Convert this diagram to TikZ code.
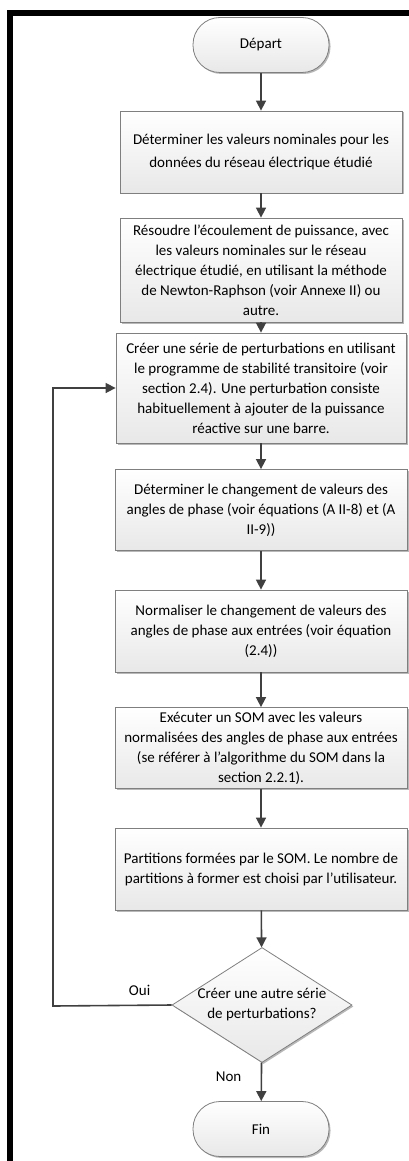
\documentclass[tikz,border=0pt]{standalone}
\usepackage{fontspec}
\setmainfont{Carlito}
\usetikzlibrary{arrows.meta,shapes.geometric,shadows}

\definecolor{traitgris}{HTML}{404040}
\definecolor{bordgris}{HTML}{7F7F7F}
\definecolor{fondgris}{HTML}{E8E8E8}

\tikzset{
  boite/.style={rectangle, draw=bordgris, line width=0.8pt, top color=white, bottom color=fondgris,
    drop shadow={shadow xshift=1.5pt, shadow yshift=-1.5pt, fill=gray!70, opacity=0.8},
    align=center, inner sep=0pt},
  terminal/.style={boite, rounded corners=27pt, minimum width=136pt, minimum height=55pt},
  decision/.style={boite, diamond, minimum width=180pt, minimum height=115pt},
  fleche/.style={draw=traitgris, line width=1.6pt, -{Triangle[length=10pt,width=10pt]}},
}

\begin{document}
\begin{tikzpicture}[x=1pt, y=-1pt, font=\fontsize{15}{20}\selectfont]
  \useasboundingbox (0,0) rectangle (409,1161);
  % cadre
  \fill[black] (7,10) rectangle (409,16);
  \fill[black] (7,10) rectangle (13,1161);

  \node[terminal] (depart) at (261,45) {Départ};
  \node[boite, minimum width=282pt, minimum height=82pt, font=\fontsize{15}{23}\selectfont] (b1) at (261,152)
    {Déterminer les valeurs nominales pour les\\données du réseau électrique étudié};
  \node[boite, minimum width=282pt, minimum height=104pt] (b2) at (261,270)
    {Résoudre l’écoulement de puissance, avec\\les valeurs nominales sur le réseau\\électrique étudié, en utilisant la méthode\\de Newton-Raphson (voir Annexe II) ou\\autre.};
  \node[boite, minimum width=290pt, minimum height=110pt] (b3) at (261,388)
    {Créer une série de perturbations en utilisant\\le programme de stabilité transitoire (voir\\section 2.4). Une perturbation consiste\\habituellement à ajouter de la puissance\\réactive sur une barre.};
  \node[boite, minimum width=292pt, minimum height=81pt] (b4) at (261,510)
    {Déterminer le changement de valeurs des\\angles de phase (voir équations (A II-8) et (A\\II-9))};
  \node[boite, minimum width=292pt, minimum height=82pt] (b5) at (261,631)
    {Normaliser le changement de valeurs des\\angles de phase aux entrées (voir équation\\(2.4))};
  \node[boite, minimum width=292pt, minimum height=81pt] (b6) at (261,748)
    {Exécuter un SOM avec les valeurs\\normalisées des angles de phase aux entrées\\(se référer à l’algorithme du SOM dans la\\section 2.2.1).};
  \node[boite, minimum width=292pt, minimum height=82pt] (b7) at (261,869)
    {Partitions formées par le SOM. Le nombre de\\partitions à former est choisi par l’utilisateur.};
  \node[decision, label={[align=center]center:Créer une autre série\\de perturbations?}] (dec) at (262,1005) {};
  \node[terminal] (fin) at (261,1129) {Fin};

  \coordinate (retour) at (53,1006);

  \draw[fleche] (depart) -- (b1);
  \draw[fleche] (b1) -- (b2);
  \draw[fleche] (b2) -- (b3);
  \draw[fleche] (b3) -- (b4);
  \draw[fleche] (b4) -- (b5);
  \draw[fleche] (b5) -- (b6);
  \draw[fleche] (b6) -- (b7);
  \draw[fleche] (b7) -- (dec);
  \draw[fleche] (dec) -- node[pos=0.36, left=16pt] {Non} (fin);
  \draw[fleche] (dec.west) -- node[pos=0.27, above=6pt] {Oui} (retour) |- (b3.west);
\end{tikzpicture}
\end{document}
